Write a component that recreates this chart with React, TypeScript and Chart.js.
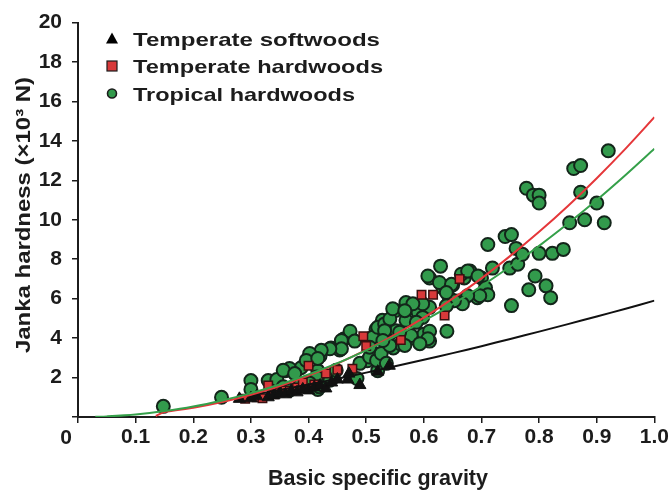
import React, { useEffect, useRef } from "react";
import { Chart, registerables } from "chart.js";

Chart.register(...registerables);

// ---- Data ----
const temperateSoftwoods: [number, number][] = [
  [0.28, 0.92], [0.3, 0.95], [0.31, 1.05], [0.33, 1.0], [0.34, 1.1], [0.35, 1.2], [0.36, 1.15],
  [0.37, 1.3], [0.38, 1.25], [0.39, 1.4], [0.4, 1.35], [0.41, 1.5], [0.42, 1.6], [0.43, 1.45],
  [0.44, 1.75], [0.45, 1.9], [0.468, 1.9], [0.47, 2.2], [0.489, 1.62], [0.52, 2.3], [0.54, 2.6],
];

const temperateHardwoods: [number, number][] = [
  [0.29, 0.92], [0.31, 1.0], [0.32, 0.95], [0.34, 1.15], [0.35, 1.25], [0.36, 1.35], [0.38, 1.5],
  [0.39, 1.75], [0.41, 1.65], [0.43, 2.2], [0.45, 2.4], [0.476, 2.45], [0.495, 4.1], [0.5, 3.6],
  [0.56, 3.9], [0.596, 6.2], [0.616, 6.2], [0.636, 5.15], [0.662, 7.0], [0.33, 1.6], [0.4, 2.6],
];

const tropicalHardwoods: [number, number][] = [
  [0.148, 0.54], [0.249, 1.0], [0.3, 1.85], [0.3, 1.4], [0.33, 1.85], [0.345, 1.9], [0.36, 2.35],
  [0.387, 2.5], [0.4, 3.0], [0.42, 3.1], [0.439, 3.5], [0.454, 3.4], [0.461, 3.95], [0.472, 4.35],
  [0.48, 3.85], [0.416, 2.35], [0.43, 1.85], [0.416, 1.4], [0.443, 2.0], [0.484, 1.95],
  [0.502, 2.85], [0.52, 2.35], [0.52, 3.2], [0.517, 4.45], [0.528, 4.9], [0.54, 4.2], [0.547, 3.5],
  [0.551, 5.4], [0.569, 5.8], [0.569, 4.9], [0.56, 3.7], [0.58, 4.0], [0.59, 5.3], [0.6, 4.2],
  [0.61, 4.35], [0.61, 3.85], [0.61, 7.05], [0.629, 7.65], [0.633, 6.55], [0.64, 4.35],
  [0.644, 6.05], [0.65, 6.7], [0.663, 5.9], [0.67, 7.05], [0.68, 7.4], [0.693, 6.05], [0.7, 7.05],
  [0.707, 6.55], [0.711, 6.2], [0.711, 8.75], [0.719, 7.55], [0.741, 9.15], [0.752, 9.25],
  [0.749, 7.55], [0.752, 5.65], [0.76, 8.55], [0.763, 7.75], [0.771, 8.25], [0.778, 11.6],
  [0.782, 6.45], [0.79, 11.25], [0.793, 7.15], [0.8, 11.25], [0.8, 10.85], [0.8, 8.3],
  [0.812, 6.65], [0.82, 6.05], [0.823, 8.3], [0.842, 8.5], [0.853, 9.85], [0.86, 12.6],
  [0.872, 12.75], [0.872, 11.4], [0.879, 10.0], [0.9, 10.85], [0.913, 9.85], [0.92, 13.5],
  [0.457, 3.88], [0.457, 3.46], [0.437, 3.46], [0.422, 3.38], [0.402, 3.22], [0.396, 2.87],
  [0.416, 2.97], [0.367, 2.46], [0.356, 2.37], [0.376, 2.2], [0.414, 2.03], [0.437, 1.86],
  [0.402, 1.71], [0.419, 1.53], [0.448, 2.37], [0.489, 2.72], [0.506, 3.04], [0.518, 2.87],
  [0.526, 3.22], [0.535, 2.72], [0.511, 4.05], [0.52, 4.55], [0.532, 4.72], [0.541, 4.97],
  [0.552, 4.38], [0.537, 3.8], [0.506, 3.54], [0.356, 1.53], [0.385, 1.61], [0.367, 1.36],
  [0.607, 7.15], [0.627, 6.82], [0.648, 6.73], [0.665, 7.24], [0.676, 7.4], [0.694, 7.15],
  [0.697, 6.15], [0.676, 6.15], [0.667, 5.74], [0.653, 5.9], [0.639, 6.31], [0.639, 5.64],
  [0.61, 5.56], [0.598, 5.74], [0.581, 5.74], [0.546, 5.49], [0.567, 5.39], [0.598, 5.05],
  [0.587, 4.8], [0.607, 3.97], [0.578, 4.13], [0.558, 4.3], [0.532, 4.38], [0.541, 3.63],
  [0.567, 3.63], [0.593, 3.72], [0.529, 3.88],
];

// Fitted curves
const softwoodFitX = [0.28, 0.3, 0.35, 0.4, 0.45, 0.5, 0.55, 0.6, 0.65, 0.7, 0.75, 0.8, 0.85, 0.9, 0.95, 1.0];
const softwoodFitY = [1.01, 1.11, 1.37, 1.65, 1.94, 2.25, 2.57, 2.9, 3.24, 3.59, 3.96, 4.33, 4.71, 5.1, 5.49, 5.9];

const hardwoodFitX = [0.135, 0.15, 0.2, 0.25, 0.3, 0.35, 0.4, 0.45, 0.5, 0.55, 0.6, 0.65, 0.7, 0.75, 0.8, 0.85, 0.9, 0.95, 1.0];
const hardwoodFitY = [0.05, 0.25, 0.47, 0.76, 1.13, 1.57, 2.1, 2.71, 3.4, 4.18, 5.04, 6.0, 7.03, 8.17, 9.39, 10.7, 12.11, 13.61, 15.2];

const tropicalFitX = [0.03, 0.05, 0.1, 0.15, 0.2, 0.25, 0.3, 0.35, 0.4, 0.45, 0.5, 0.55, 0.6, 0.65, 0.7, 0.75, 0.8, 0.85, 0.9, 0.95, 1.0];
const tropicalFitY = [0.01, 0.03, 0.13, 0.3, 0.53, 0.84, 1.21, 1.65, 2.16, 2.73, 3.38, 4.09, 4.87, 5.72, 6.64, 7.63, 8.68, 9.81, 11.0, 12.27, 13.6];

const legendLabels = ["Temperate softwoods", "Temperate hardwoods", "Tropical hardwoods"];
const xTitle = "Basic specific gravity";
const yTitle = "Janka hardness (×10³ N)";

const FONT = "'Liberation Sans', Arial, sans-serif";
const GREEN = "#329a4c";
const RED = "#d8393a";
const DARK = "#1c1c1c";

const toPts = (xs: number[], ys: number[]) => xs.map((x, i) => ({ x, y: ys[i] }));
const pairs = (a: [number, number][]) => a.map(([x, y]) => ({ x, y }));

// draws text stretched horizontally to a target width
function fitText(ctx: CanvasRenderingContext2D, text: string, x: number, y: number, width: number) {
  const w = ctx.measureText(text).width;
  ctx.save();
  ctx.translate(x, y);
  ctx.scale(width / w, 1);
  ctx.fillText(text, 0, 0);
  ctx.restore();
}

const overlayPlugin = {
  id: "overlay",
  afterDraw(chart: any) {
    const ctx = chart.ctx as CanvasRenderingContext2D;
    const xs = chart.scales.x;
    const ys = chart.scales.y;
    ctx.save();
    ctx.fillStyle = DARK;
    // origin "0"
    ctx.font = `bold 21px ${FONT}`;
    ctx.textAlign = "center";
    ctx.textBaseline = "middle";
    ctx.fillText("0", xs.left - 12, ys.bottom + 21);

    // x title
    ctx.textAlign = "left";
    ctx.textBaseline = "alphabetic";
    ctx.font = `bold 22px ${FONT}`;
    fitText(ctx, xTitle, 268, 485, 220);

    // y title (rotated)
    ctx.save();
    ctx.translate(30, 353);
    ctx.rotate(-Math.PI / 2);
    ctx.font = `bold 21px ${FONT}`;
    fitText(ctx, yTitle, 0, 0, 276);
    ctx.restore();

    // legend
    const lx = 112;
    const rows = [45.5, 73, 100.5];
    ctx.font = `bold 19px ${FONT}`;
    const widths = [247, 250, 222];
    rows.forEach((ry, i) => {
      const cy = ry - 7;
      ctx.lineWidth = 1.2;
      ctx.strokeStyle = DARK;
      if (i === 0) {
        ctx.fillStyle = "#000";
        ctx.beginPath();
        ctx.moveTo(lx, cy - 6);
        ctx.lineTo(lx + 6, cy + 5);
        ctx.lineTo(lx - 6, cy + 5);
        ctx.closePath();
        ctx.fill();
      } else if (i === 1) {
        ctx.fillStyle = RED;
        ctx.fillRect(lx - 5, cy - 5, 10, 10);
        ctx.strokeRect(lx - 5, cy - 5, 10, 10);
      } else {
        ctx.fillStyle = GREEN;
        ctx.beginPath();
        ctx.arc(lx, cy, 4.5, 0, Math.PI * 2);
        ctx.fill();
        ctx.lineWidth = 1.6;
        ctx.stroke();
      }
      ctx.fillStyle = DARK;
      fitText(ctx, legendLabels[i], 133, ry, widths[i]);
    });
    ctx.restore();
  },
};

export default function App() {
  const canvasRef = useRef<HTMLCanvasElement>(null);

  useEffect(() => {
    if (!canvasRef.current) return;
    const lineDs = (label: string, data: any[], color: string, order: number) => ({
      type: "line" as const,
      label,
      data,
      order,
      borderColor: color,
      backgroundColor: color,
      borderWidth: 2,
      pointRadius: 0,
      fill: false,
      tension: 0.3,
      showLine: true,
    });
    const chart = new Chart(canvasRef.current, {
      type: "scatter",
      data: {
        datasets: [
          {
            label: legendLabels[2],
            data: pairs(tropicalHardwoods),
            order: 6,
            pointStyle: "circle",
            pointRadius: 6.5,
            backgroundColor: GREEN,
            borderColor: "#13251a",
            borderWidth: 2,
          },
          {
            label: legendLabels[1],
            data: pairs(temperateHardwoods),
            order: 5,
            pointStyle: "rect",
            pointRadius: 6,
            backgroundColor: RED,
            borderColor: "#3a1010",
            borderWidth: 1.5,
          },
          {
            label: legendLabels[0],
            data: pairs(temperateSoftwoods),
            order: 4,
            pointStyle: "triangle",
            pointRadius: 7,
            backgroundColor: "#111",
            borderColor: "#111",
            borderWidth: 1,
          },
          lineDs("softwood fit", toPts(softwoodFitX, softwoodFitY), "#111111", 3),
          lineDs("hardwood fit", toPts(hardwoodFitX, hardwoodFitY), "#e5373a", 2),
          lineDs("tropical fit", toPts(tropicalFitX, tropicalFitY), "#35a04a", 1),
        ] as any,
      },
      options: {
        animation: false,
        responsive: false,
        maintainAspectRatio: false,
        layout: { padding: { left: 0, right: 16, top: 20, bottom: 0 } },
        plugins: {
          legend: { display: false },
          tooltip: { enabled: false },
        },
        scales: {
          x: {
            type: "linear",
            min: 0,
            max: 1,
            afterFit: (s: any) => {
              s.height = 74;
            },
            ticks: {
              stepSize: 0.1,
              color: DARK,
              padding: 2,
              font: { family: FONT, size: 21, weight: "bold" },
              maxRotation: 0,
              autoSkip: false,
              callback: (v: any) => (Math.abs(Number(v)) < 1e-9 ? "" : Number(v).toFixed(1)),
            },
            grid: {
              display: true,
              drawOnChartArea: false,
              drawTicks: true,
              tickLength: 6,
              color: DARK,
              lineWidth: 1.5,
            },
            border: { display: true, color: DARK, width: 2 },
          },
          y: {
            type: "linear",
            min: 0,
            max: 20,
            afterFit: (s: any) => {
              s.width = 78;
            },
            ticks: {
              stepSize: 2,
              color: DARK,
              padding: 10,
              font: { family: FONT, size: 21, weight: "bold" },
              callback: (v: any) => (Number(v) === 0 ? "" : String(v)),
            },
            grid: {
              display: true,
              drawOnChartArea: false,
              drawTicks: true,
              tickLength: 6,
              color: DARK,
              lineWidth: 1.5,
            },
            border: { display: true, color: DARK, width: 2 },
          },
        },
      },
      plugins: [overlayPlugin],
    } as any);
    return () => chart.destroy();
  }, []);

  return (
    <div style={{ position: "absolute", left: 0, top: 0, width: 671, height: 491, background: "#fff" }}>
      <canvas ref={canvasRef} width={671} height={491} style={{ width: 671, height: 491, display: "block" }} />
    </div>
  );
}
